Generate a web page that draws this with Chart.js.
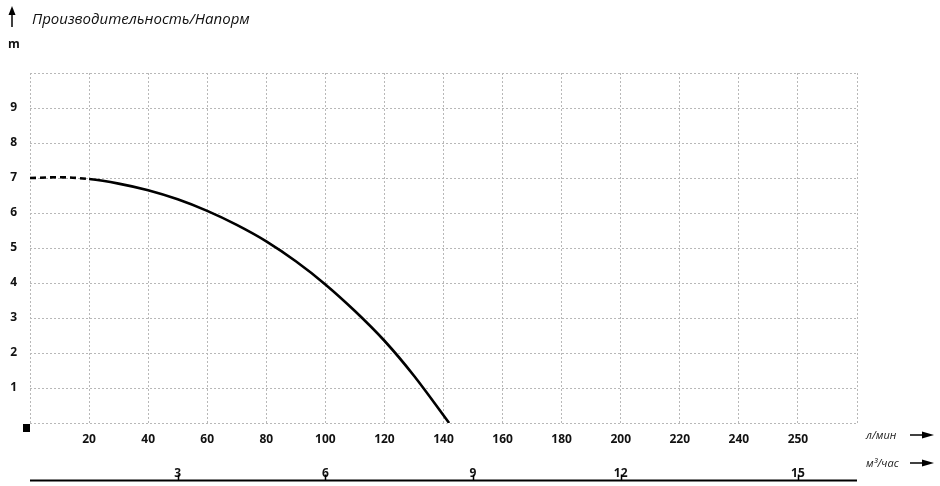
<!DOCTYPE html>
<html lang="ru">
<head>
  <meta charset="UTF-8" />
  <title>Производительность/Напорм</title>
  <script src="https://cdn.jsdelivr.net/npm/chart.js"></script>
  <style>
    body{margin:0;padding:0;background:#fff;font-family:"Open Sans",Arial,sans-serif}
    #wrap{position:relative;width:940px;height:486px}
    canvas{position:absolute;left:0;top:0}
    .txt{position:absolute;color:#111;white-space:nowrap}
    #titulo{left:32px;top:8px;font-size:15px;font-style:italic}
    #unidadM{left:8px;top:35px;font-size:12px;font-weight:bold}
    .unidad{left:866px;font-size:11px;font-style:italic;color:#222}
  </style>
</head>
<body>
<div id="wrap">
  <canvas id="grafico" width="940" height="486"></canvas>
  <div class="txt" id="titulo">Производительность/Напорм</div>
  <div class="txt" id="unidadM">m</div>
  <div class="txt unidad" style="top:427px">л/мин</div>
  <div class="txt unidad" style="top:455px">м³/час</div>
</div>
<script>
/* ---------- datos ---------- */
// caudal en l/min y altura en m
const caudal = [0, 10, 20, 30, 40, 50, 60, 70, 80, 90, 100, 110, 120, 130, 141.9];
const altura = [7.0, 7.02, 6.97, 6.84, 6.65, 6.39, 6.06, 5.66, 5.19, 4.62, 3.96, 3.2, 2.35, 1.35, 0];
const limiteDiscontinuo = 20;   // tramo inicial en línea discontinua

// eje inferior en m³/h (posición en l/min, etiqueta)
const m3Posiciones = [50, 100, 150, 200, 260];
const m3Etiquetas = ["3", "6", "9", "12", "15"];

// etiquetas de l/min (260 aparece como 250 en el original)
const etiquetasLmin = {20:"20",40:"40",60:"60",80:"80",100:"100",120:"120",140:"140",
  160:"160",180:"180",200:"200",220:"220",240:"240",260:"250"};
const etiquetasAltura = {1:"1",2:"2",3:"3",4:"4",5:"5",6:"6",7:"7",8:"8",9:"9"};

const fuenteEje = {family:"'Open Sans', Arial, sans-serif", size:12, weight:"bold"};
const rejilla = {color:"#b8b8b8", lineWidth:1, drawTicks:false};
const bordeRejilla = {display:false, dash:[2,2]};

/* ---------- adornos: flechas, cuadrado y línea inferior ---------- */
const adornos = {
  id:"adornos",
  afterDraw(chart){
    const c = chart.ctx;
    const x2 = chart.scales.x2;
    const area = chart.chartArea;
    c.save();
    c.fillStyle = "#000"; c.strokeStyle = "#000";
    // flecha vertical
    c.lineWidth = 1.5;
    c.beginPath(); c.moveTo(12, 27); c.lineTo(12, 12); c.stroke();
    c.beginPath(); c.moveTo(12, 6); c.lineTo(8.5, 15); c.lineTo(15.5, 15); c.closePath(); c.fill();
    // flechas horizontales
    [435, 463].forEach(y=>{
      c.beginPath(); c.moveTo(910, y); c.lineTo(924, y); c.stroke();
      c.beginPath(); c.moveTo(934, y); c.lineTo(922, y-3.5); c.lineTo(922, y+3.5); c.closePath(); c.fill();
    });
    // cuadrado en el origen
    c.fillRect(area.left - 7, area.bottom + 1, 7, 8);
    // línea del eje m³/h
    const yl = 480.5;
    c.lineWidth = 2;
    c.beginPath(); c.moveTo(area.left, yl); c.lineTo(area.right, yl); c.stroke();
    c.lineWidth = 1.5;
    m3Posiciones.forEach(v=>{
      const px = Math.round(x2.getPixelForValue(v)) + 0.5;
      c.beginPath(); c.moveTo(px, yl); c.lineTo(px, yl - 6); c.stroke();
    });
    c.restore();
  }
};

/* ---------- gráfico ---------- */
new Chart(document.getElementById("grafico").getContext("2d"), {
  type:"line",
  data:{
    datasets:[{
      data: caudal.map((q,i)=>({x:q, y:altura[i]})),
      borderColor:"#000",
      borderWidth:2.6,
      pointRadius:0,
      fill:false,
      cubicInterpolationMode:"monotone",
      segment:{
        borderDash: ctx => ctx.p1.parsed.x <= limiteDiscontinuo ? [6,4] : undefined
      }
    }]
  },
  options:{
    responsive:false,
    animation:false,
    layout:{padding:{top:73, right:83, left:0, bottom:0}},
    plugins:{legend:{display:false}, tooltip:{enabled:false}},
    scales:{
      x:{
        type:"linear", position:"bottom", min:0, max:280,
        afterFit: s => { s.height = 30; },
        grid:rejilla, border:bordeRejilla,
        ticks:{stepSize:20, color:"#111", font:fuenteEje, padding:9, maxRotation:0,
          callback: v => etiquetasLmin[v] || ""}
      },
      x2:{
        type:"linear", position:"bottom", min:0, max:280,
        afterFit: s => { s.height = 33; },
        afterBuildTicks: s => { s.ticks = m3Posiciones.map(v=>({value:v})); },
        grid:{display:false}, border:{display:false},
        ticks:{color:"#111", font:fuenteEje, padding:5, maxRotation:0, autoSkip:false,
          callback: (v, i) => m3Etiquetas[i]}
      },
      y:{
        min:0, max:10,
        afterFit: s => { s.width = 30; },
        grid:rejilla, border:bordeRejilla,
        ticks:{stepSize:1, color:"#111", font:fuenteEje, padding:13,
          callback: v => etiquetasAltura[v] || ""}
      }
    }
  },
  plugins:[adornos]
});
</script>
</body>
</html>
